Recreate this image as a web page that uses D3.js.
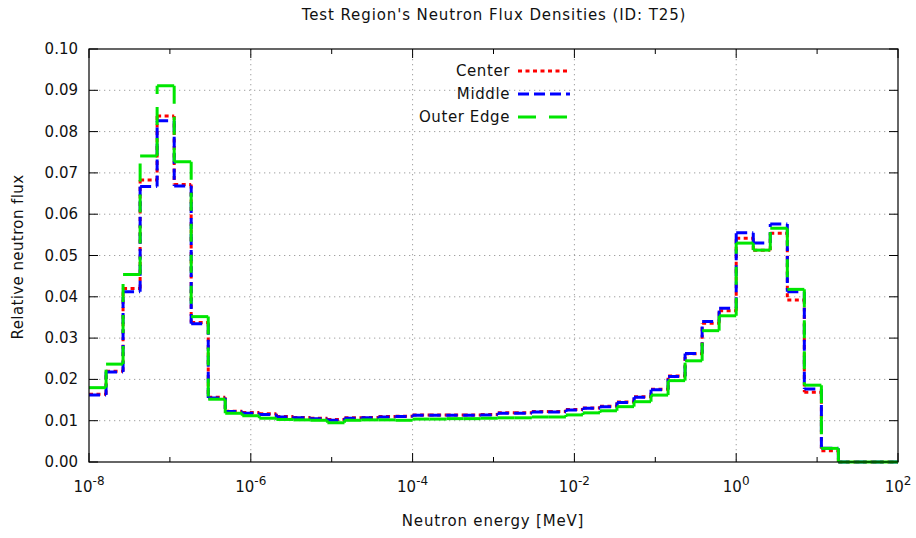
<!DOCTYPE html>
<html>
<head>
<meta charset="utf-8">
<script src="https://cdn.jsdelivr.net/npm/d3@7/dist/d3.min.js"></script>
<style>
  body { margin: 0; background: #fff; }
  text { font-family: Tahoma, "DejaVu Sans", sans-serif; font-size: 15px; fill: #111; }
</style>
</head>
<body>
<svg width="916" height="538"></svg>
<script>
// bin edges as log10(E / MeV)
var edges = [-8, -7.789, -7.579, -7.368, -7.158, -6.947, -6.737, -6.526, -6.316, -6.105,
             -5.895, -5.684, -5.474, -5.263, -5.053, -4.842, -4.632, -4.421, -4.211, -4,
             -3.789, -3.579, -3.368, -3.158, -2.947, -2.737, -2.526, -2.316, -2.105, -1.895,
             -1.684, -1.474, -1.263, -1.053, -0.842, -0.632, -0.421, -0.211, 0, 0.211,
             0.421, 0.632, 0.842, 1.053, 1.263, 1.474, 1.684, 1.895, 2];

var center = [0.0164, 0.0220, 0.0420, 0.0683, 0.0838, 0.0672, 0.0338, 0.0157, 0.0123, 0.0120,
              0.0117, 0.0110, 0.0108, 0.0106, 0.0103, 0.0107, 0.0108, 0.0110, 0.0111, 0.0114,
              0.0114, 0.0114, 0.0114, 0.0115, 0.0119, 0.0119, 0.0122, 0.0122, 0.0127, 0.0131,
              0.0135, 0.0145, 0.0158, 0.0176, 0.0208, 0.0262, 0.0336, 0.0366, 0.0542, 0.0513,
              0.0554, 0.0392, 0.0169, 0.0027, 0, 0, 0, 0];
var middle = [0.0162, 0.0218, 0.0412, 0.0667, 0.0826, 0.0668, 0.0335, 0.0155, 0.0122, 0.0118,
              0.0115, 0.0109, 0.0107, 0.0105, 0.0101, 0.0106, 0.0107, 0.0109, 0.0110, 0.0113,
              0.0113, 0.0113, 0.0113, 0.0114, 0.0118, 0.0118, 0.0121, 0.0121, 0.0126, 0.0130,
              0.0134, 0.0144, 0.0157, 0.0175, 0.0207, 0.0263, 0.0340, 0.0372, 0.0555, 0.0530,
              0.0576, 0.0412, 0.0177, 0.0033, 0, 0, 0, 0];
var outer  = [0.0180, 0.0237, 0.0454, 0.0741, 0.0911, 0.0727, 0.0352, 0.0152, 0.0118, 0.0112,
              0.0106, 0.0103, 0.0102, 0.0101, 0.0095, 0.0101, 0.0102, 0.0102, 0.0101, 0.0104,
              0.0104, 0.0105, 0.0105, 0.0106, 0.0107, 0.0107, 0.0109, 0.0109, 0.0114, 0.0119,
              0.0124, 0.0134, 0.0146, 0.0162, 0.0197, 0.0245, 0.0318, 0.0354, 0.0530, 0.0513,
              0.0566, 0.0418, 0.0186, 0.0033, 0, 0, 0, 0];

var names    = ["Center", "Middle", "Outer Edge"];
var y_ticks  = [0, 0.01, 0.02, 0.03, 0.04, 0.05, 0.06, 0.07, 0.08, 0.09, 0.10];
var x_major  = [-8, -6, -4, -2, 0, 2];
var x_minor  = [-7, -5, -3, -1, 1];

var colors  = ["#ff0000", "#0000ff", "#00e600"];
var dashes  = ["4,3.5", "11,5", "18,13"];

var svg = d3.select("svg");
var L = 89, R = 898, T = 49, B = 462;

var x = d3.scaleLog().domain([1e-8, 1e2]).range([L, R]);
var y = d3.scaleLinear().domain([0, 0.1]).range([B, T]);

// grid
svg.selectAll(".gy").data(y_ticks.slice(1, -1)).enter()
  .append("line")
    .attr("x1", L).attr("x2", R)
    .attr("y1", function(d){ return y(d); })
    .attr("y2", function(d){ return y(d); })
    .style("stroke", "#a0a0a0").style("stroke-dasharray", "1.3,3.7");
svg.selectAll(".gx").data(x_major.slice(1, -1)).enter()
  .append("line")
    .attr("y1", T).attr("y2", B)
    .attr("x1", function(d){ return x(Math.pow(10, d)); })
    .attr("x2", function(d){ return x(Math.pow(10, d)); })
    .style("stroke", "#a0a0a0").style("stroke-dasharray", "1.3,3.7");

// ticks, both sides
var tk = svg.append("g").style("stroke", "#000").style("stroke-width", 1);
y_ticks.forEach(function(d){
  tk.append("line").attr("x1", L).attr("x2", L + 9).attr("y1", y(d)).attr("y2", y(d));
  tk.append("line").attr("x1", R).attr("x2", R - 9).attr("y1", y(d)).attr("y2", y(d));
});
x_major.concat(x_minor).forEach(function(d){
  var len = x_major.indexOf(d) >= 0 ? 9 : 5;
  var xx = x(Math.pow(10, d));
  tk.append("line").attr("x1", xx).attr("x2", xx).attr("y1", B).attr("y2", B - len);
  tk.append("line").attr("x1", xx).attr("x2", xx).attr("y1", T).attr("y2", T + len);
});

// step curves, one segment at a time so the dash restarts like the original
[center, middle, outer].forEach(function(vals, s){
  var g = svg.append("g")
    .style("stroke", colors[s])
    .style("stroke-width", 3)
    .style("stroke-dasharray", dashes[s])
    .style("fill", "none");
  for (var i = 0; i < vals.length; i++) {
    var x0 = x(Math.pow(10, edges[i])), x1 = x(Math.pow(10, edges[i + 1]));
    g.append("line").attr("x1", x0).attr("x2", x1).attr("y1", y(vals[i])).attr("y2", y(vals[i]));
    if (i + 1 < vals.length && vals[i + 1] != vals[i]) {
      g.append("line").attr("x1", x1).attr("x2", x1).attr("y1", y(vals[i])).attr("y2", y(vals[i + 1]));
    }
  }
});

// border
svg.append("rect")
  .attr("x", L).attr("y", T).attr("width", R - L).attr("height", B - T)
  .style("fill", "none").style("stroke", "#000").style("stroke-width", 1.2);

// tick labels
svg.selectAll(".yl").data(y_ticks).enter()
  .append("text")
    .attr("x", 78)
    .attr("y", function(d){ return y(d) + 5; })
    .attr("text-anchor", "end")
    .text(function(d){ return d.toFixed(2); });

x_major.forEach(function(d){
  var t = svg.append("text")
    .attr("x", x(Math.pow(10, d)))
    .attr("y", 492)
    .attr("text-anchor", "middle");
  t.append("tspan").text("10");
  t.append("tspan").attr("dy", -7).style("font-size", "12px").text(d);
});

// titles
svg.append("text").attr("x", 494).attr("y", 20).attr("text-anchor", "middle")
  .style("letter-spacing", "0.9px")
  .text("Test Region's Neutron Flux Densities (ID: T25)");
svg.append("text").attr("x", 493).attr("y", 526).attr("text-anchor", "middle")
  .style("letter-spacing", "0.8px")
  .text("Neutron energy [MeV]");
svg.append("text")
  .attr("transform", "translate(23,257) rotate(-90)")
  .attr("text-anchor", "middle")
  .style("letter-spacing", "0.4px")
  .text("Relative neutron flux");

// legend
names.forEach(function(n, i){
  var ly = 71 + i * 23;
  svg.append("text").attr("x", 510).attr("y", ly + 5).attr("text-anchor", "end")
    .style("letter-spacing", "0.6px").text(n);
  svg.append("line")
    .attr("x1", 518).attr("x2", 570).attr("y1", ly).attr("y2", ly)
    .style("stroke", colors[i]).style("stroke-width", 3)
    .style("stroke-dasharray", dashes[i]);
});
</script>
</body>
</html>
